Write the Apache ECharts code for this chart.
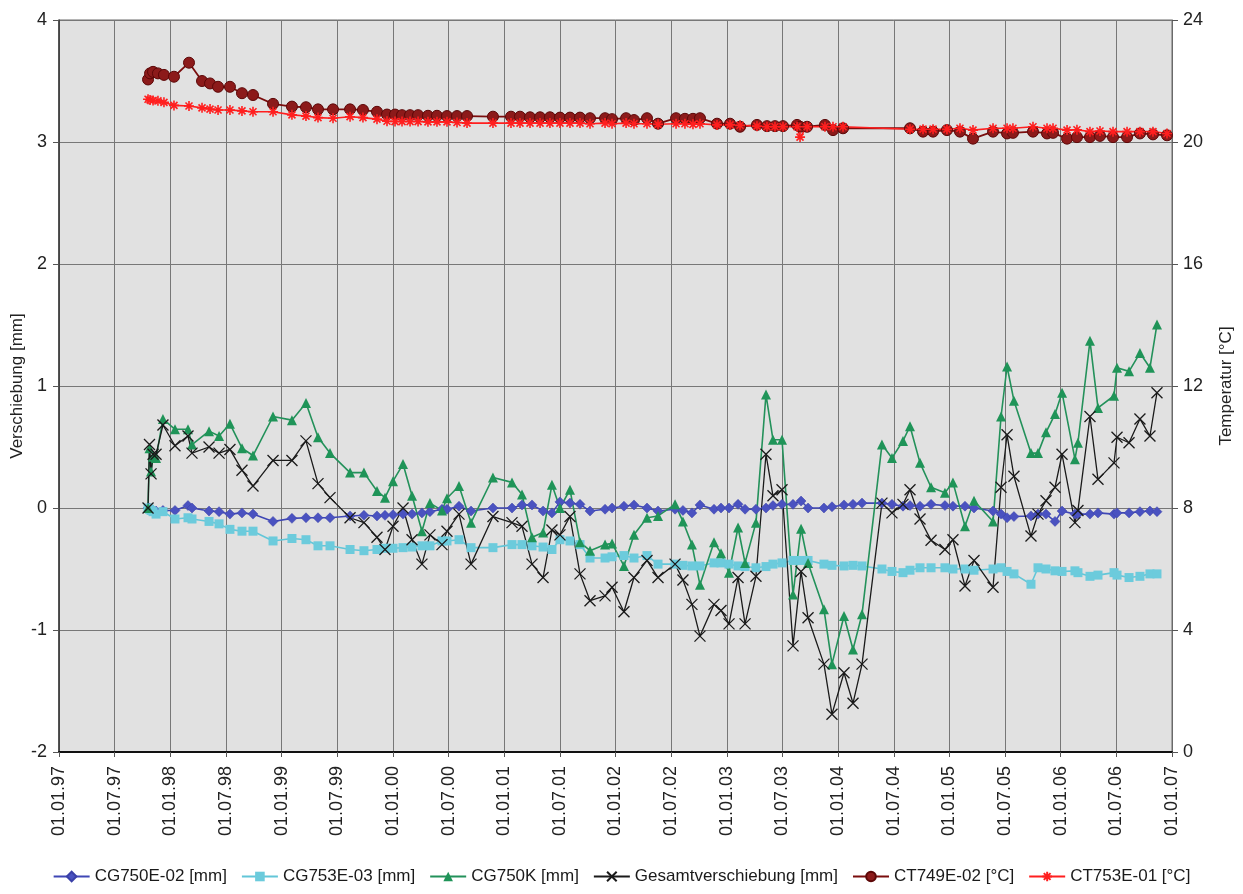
<!DOCTYPE html>
<html>
<head>
<meta charset="utf-8">
<script src="https://cdn.jsdelivr.net/npm/echarts@6/dist/echarts.min.js"></script>
<style>
  html, body { margin: 0; padding: 0; background: #ffffff; }
  #chart { width: 1243px; height: 894px; }
</style>
</head>
<body>
<div id="chart"></div>
<script>
// Measurement dates of the displacement readings (decimal years)
const dispYears = [
  1997.800, 1997.813, 1997.827, 1997.845, 1997.872, 1997.934, 1998.042, 1998.159, 1998.195, 1998.348,
  1998.438, 1998.536, 1998.644, 1998.743, 1998.923, 1999.093, 1999.219, 1999.327, 1999.435, 1999.615,
  1999.740, 1999.857, 1999.929, 2000.001, 2000.091, 2000.172, 2000.261, 2000.333, 2000.441, 2000.486,
  2000.594, 2000.702, 2000.899, 2001.070, 2001.160, 2001.250, 2001.349, 2001.429, 2001.501, 2001.591,
  2001.681, 2001.771, 2001.906, 2001.969, 2002.076, 2002.166, 2002.283, 2002.382, 2002.535, 2002.606,
  2002.687, 2002.759, 2002.885, 2002.948, 2003.020, 2003.101, 2003.164, 2003.262, 2003.352, 2003.415,
  2003.496, 2003.595, 2003.667, 2003.730, 2003.873, 2003.945, 2004.053, 2004.134, 2004.215, 2004.394,
  2004.484, 2004.583, 2004.646, 2004.736, 2004.835, 2004.960, 2005.032, 2005.140, 2005.221, 2005.392,
  2005.464, 2005.518, 2005.580, 2005.733, 2005.796, 2005.868, 2005.949, 2006.012, 2006.128, 2006.155,
  2006.263, 2006.335, 2006.479, 2006.506, 2006.614, 2006.712, 2006.802, 2006.865
];

// CG750E-02 [mm]
const cg750e02 = [
  0.00, 0.00, -0.01, -0.02, -0.025, -0.02, -0.02, 0.02, 0.00, -0.025,
  -0.03, -0.05, -0.04, -0.05, -0.11, -0.085, -0.08, -0.08, -0.08, -0.065,
  -0.06, -0.065, -0.06, -0.055, -0.05, -0.05, -0.04, -0.03, -0.01, -0.01,
  0.015, -0.025, 0.00, 0.00, 0.025, 0.025, -0.025, -0.04, 0.05, 0.04,
  0.03, -0.025, -0.01, 0.00, 0.015, 0.025, 0.00, -0.025, -0.01, -0.02,
  -0.04, 0.025, -0.01, 0.00, 0.00, 0.03, -0.01, -0.01, 0.00, 0.02,
  0.03, 0.03, 0.057, 0.00, 0.00, 0.01, 0.025, 0.03, 0.04, 0.04,
  0.03, 0.015, 0.02, 0.015, 0.03, 0.02, 0.015, 0.015, 0.00, -0.025,
  -0.05, -0.08, -0.07, -0.065, -0.05, -0.05, -0.11, -0.025, -0.05, -0.05,
  -0.05, -0.04, -0.05, -0.04, -0.04, -0.03, -0.025, -0.03
];

// CG753E-03 [mm]
const cg753e03 = [
  0.00, -0.01, -0.02, -0.03, -0.05, -0.03, -0.09, -0.08, -0.09, -0.11,
  -0.13, -0.175, -0.19, -0.19, -0.27, -0.25, -0.26, -0.31, -0.31, -0.34,
  -0.35, -0.34, -0.33, -0.33, -0.325, -0.32, -0.31, -0.31, -0.27, -0.27,
  -0.26, -0.325, -0.325, -0.30, -0.30, -0.31, -0.32, -0.34, -0.26, -0.27,
  -0.30, -0.41, -0.41, -0.40, -0.39, -0.41, -0.39, -0.46, -0.46, -0.47,
  -0.475, -0.475, -0.45, -0.45, -0.46, -0.475, -0.48, -0.49, -0.48, -0.46,
  -0.45, -0.43, -0.43, -0.43, -0.46, -0.47, -0.475, -0.47, -0.475, -0.50,
  -0.52, -0.53, -0.51, -0.49, -0.49, -0.49, -0.50, -0.50, -0.51, -0.50,
  -0.49, -0.52, -0.54, -0.625, -0.49, -0.50, -0.515, -0.52, -0.515, -0.53,
  -0.56, -0.55, -0.53, -0.55, -0.57, -0.56, -0.54, -0.54
];

// CG750K [mm]
const cg750k = [
  0.00, 0.49, 0.30, 0.42, 0.41, 0.73, 0.645, 0.645, 0.52, 0.63,
  0.59, 0.69, 0.49, 0.43, 0.75, 0.72, 0.86, 0.58, 0.45, 0.29,
  0.29, 0.14, 0.085, 0.22, 0.36, 0.10, -0.19, 0.04, -0.02, 0.08,
  0.18, -0.12, 0.25, 0.21, 0.11, -0.24, -0.20, 0.19, 0.00, 0.15,
  -0.28, -0.35, -0.30, -0.29, -0.475, -0.22, -0.08, -0.065, 0.03, -0.11,
  -0.30, -0.63, -0.28, -0.37, -0.53, -0.16, -0.45, -0.12, 0.93, 0.56,
  0.56, -0.71, -0.17, -0.45, -0.83, -1.28, -0.885, -1.16, -0.87, 0.52,
  0.41, 0.55, 0.67, 0.37, 0.17, 0.125, 0.21, -0.15, 0.06, -0.11,
  0.75, 1.16, 0.88, 0.45, 0.45, 0.62, 0.77, 0.945, 0.40, 0.535,
  1.37, 0.82, 0.92, 1.15, 1.12, 1.27, 1.15, 1.505
];

// Gesamtverschiebung [mm]
const gesamt = [
  0.00, 0.52, 0.28, 0.44, 0.44, 0.68, 0.51, 0.59, 0.45, 0.50,
  0.45, 0.48, 0.31, 0.18, 0.39, 0.39, 0.55, 0.20, 0.085, -0.08,
  -0.12, -0.24, -0.34, -0.15, 0.00, -0.26, -0.46, -0.22, -0.30, -0.19,
  -0.05, -0.46, -0.07, -0.12, -0.15, -0.46, -0.57, -0.18, -0.22, -0.07,
  -0.54, -0.76, -0.72, -0.65, -0.85, -0.57, -0.43, -0.57, -0.46, -0.59,
  -0.79, -1.05, -0.79, -0.84, -0.95, -0.57, -0.95, -0.56, 0.44, 0.10,
  0.15, -1.13, -0.52, -0.90, -1.28, -1.69, -1.35, -1.60, -1.28, 0.04,
  -0.04, 0.03, 0.15, -0.09, -0.265, -0.34, -0.26, -0.64, -0.43, -0.65,
  0.17, 0.60, 0.26, -0.23, -0.05, 0.06, 0.17, 0.44, -0.12, -0.02,
  0.75, 0.235, 0.37, 0.58, 0.535, 0.73, 0.59, 0.945
];

// Measurement dates of the temperature readings (decimal years)
const tempYears = [
  1997.800, 1997.818, 1997.845, 1997.889, 1997.943, 1998.033, 1998.168, 1998.285, 1998.357, 1998.429,
  1998.536, 1998.644, 1998.743, 1998.923, 1999.093, 1999.219, 1999.327, 1999.462, 1999.615, 1999.731,
  1999.857, 1999.947, 2000.019, 2000.082, 2000.154, 2000.226, 2000.315, 2000.396, 2000.486, 2000.576,
  2000.666, 2000.899, 2001.061, 2001.142, 2001.232, 2001.322, 2001.411, 2001.501, 2001.591, 2001.681,
  2001.771, 2001.906, 2001.969, 2002.095, 2002.166, 2002.283, 2002.382, 2002.544, 2002.624, 2002.696,
  2002.759, 2002.912, 2003.029, 2003.119, 2003.271, 2003.361, 2003.433, 2003.505, 2003.631, 2003.658,
  2003.721, 2003.882, 2003.954, 2004.044, 2004.646, 2004.763, 2004.853, 2004.978, 2005.095, 2005.212,
  2005.392, 2005.518, 2005.571, 2005.751, 2005.877, 2005.931, 2006.057, 2006.146, 2006.263, 2006.353,
  2006.470, 2006.596, 2006.712, 2006.829, 2006.955
];

// CT749E-02 [°C]
const ct749e02 = [
  22.05, 22.25, 22.30, 22.25, 22.20, 22.14, 22.60, 22.00, 21.92, 21.81,
  21.81, 21.60, 21.54, 21.25, 21.16, 21.14, 21.07, 21.07, 21.07, 21.05,
  20.99, 20.90, 20.90, 20.88, 20.88, 20.88, 20.86, 20.86, 20.85, 20.85,
  20.85, 20.83, 20.83, 20.83, 20.81, 20.81, 20.81, 20.80, 20.80, 20.80,
  20.78, 20.78, 20.75, 20.78, 20.72, 20.78, 20.60, 20.78, 20.76, 20.76,
  20.78, 20.60, 20.60, 20.50, 20.56, 20.52, 20.52, 20.52, 20.56, 20.50,
  20.50, 20.56, 20.39, 20.45, 20.45, 20.34, 20.34, 20.39, 20.34, 20.11,
  20.34, 20.28, 20.30, 20.34, 20.28, 20.30, 20.11, 20.16, 20.16, 20.20,
  20.16, 20.16, 20.28, 20.25, 20.22
];

// CT753E-01 [°C]
const ct753e01 = [
  21.40, 21.38, 21.36, 21.35, 21.30, 21.20, 21.18, 21.12, 21.08, 21.05,
  21.05, 21.02, 20.99, 20.99, 20.89, 20.85, 20.80, 20.78, 20.83, 20.80,
  20.75, 20.68, 20.67, 20.67, 20.67, 20.67, 20.66, 20.66, 20.66, 20.64,
  20.62, 20.62, 20.62, 20.62, 20.62, 20.62, 20.62, 20.62, 20.62, 20.62,
  20.60, 20.62, 20.60, 20.62, 20.60, 20.60, 20.58, 20.60, 20.60, 20.58,
  20.60, 20.56, 20.56, 20.55, 20.52, 20.50, 20.50, 20.50, 20.50, 20.16,
  20.50, 20.50, 20.50, 20.50, 20.42, 20.42, 20.42, 20.42, 20.45, 20.39,
  20.45, 20.45, 20.45, 20.50, 20.45, 20.45, 20.39, 20.40, 20.34, 20.36,
  20.34, 20.34, 20.34, 20.34, 20.28
];

// Half-year tick labels along the time axis
const xTickLabels = [
  '01.01.97', '01.07.97', '01.01.98', '01.07.98', '01.01.99', '01.07.99', '01.01.00',
  '01.07.00', '01.01.01', '01.07.01', '01.01.02', '01.07.02', '01.01.03', '01.07.03',
  '01.01.04', '01.07.04', '01.01.05', '01.07.05', '01.01.06', '01.07.06', '01.01.07'
];

const seriesNames = [
  'CG750E-02 [mm]', 'CG753E-03 [mm]', 'CG750K [mm]', 'Gesamtverschiebung [mm]',
  'CT749E-02 [°C]', 'CT753E-01 [°C]'
];

const pair = (xs, ys) => xs.map((x, i) => [x, ys[i]]);

const FONT = '"Liberation Sans", Arial, Helvetica, sans-serif';
const crossPath = 'path://M0,0 L10,10 M10,0 L0,10';
const starPath = 'path://M5,0 L5,10 M0,5 L10,5 M1.5,1.5 L8.5,8.5 M8.5,1.5 L1.5,8.5';

const chart = echarts.init(document.getElementById('chart'), null, { renderer: 'canvas' });

chart.setOption({
  backgroundColor: '#ffffff',
  animation: false,
  textStyle: { fontFamily: FONT },
  grid: {
    left: 59, right: 71, top: 20, bottom: 142,
    outerBoundsMode: 'none', containLabel: false,
    show: true, backgroundColor: '#e1e1e1', borderColor: '#6a6a6a', borderWidth: 1
  },
  legend: {
    bottom: 4, left: 'center',
    itemWidth: 36, itemHeight: 12, itemGap: 14,
    textStyle: { fontFamily: FONT, fontSize: 17, color: '#1a1a1a' },
    data: seriesNames
  },
  xAxis: {
    type: 'value', min: 1997, max: 2007, interval: 0.5,
    axisLine: { show: true, onZero: false, lineStyle: { color: '#111', width: 2 } },
    axisTick: { show: true, length: 5, lineStyle: { color: '#555' } },
    axisLabel: {
      rotate: 90, margin: 14, fontSize: 18, color: '#222', fontFamily: FONT,
      formatter: v => xTickLabels[Math.round((v - 1997) * 2)] || ''
    },
    splitLine: { show: true, lineStyle: { color: '#777', width: 1 } }
  },
  yAxis: [
    {
      type: 'value', min: -2, max: 4, interval: 1, position: 'left',
      name: 'Verschiebung [mm]', nameLocation: 'middle', nameGap: 33, nameRotate: 90,
      nameMoveOverlap: false,
      nameTextStyle: { fontSize: 17, color: '#222', fontFamily: FONT },
      axisLine: { show: true, onZero: false, lineStyle: { color: '#333', width: 1.5 } },
      axisTick: { show: true, length: 6, lineStyle: { color: '#555' } },
      axisLabel: { fontSize: 18, color: '#222', margin: 12, fontFamily: FONT },
      splitLine: { show: true, lineStyle: { color: '#777', width: 1 } }
    },
    {
      type: 'value', min: 0, max: 24, interval: 4, position: 'right',
      name: 'Temperatur [°C]', nameLocation: 'middle', nameGap: 46, nameRotate: 90,
      nameTextStyle: { fontSize: 17, color: '#222', fontFamily: FONT },
      axisLine: { show: true, onZero: false, lineStyle: { color: '#6a6a6a', width: 1 } },
      axisTick: { show: true, length: 6, lineStyle: { color: '#555' } },
      axisLabel: { fontSize: 18, color: '#222', margin: 11, fontFamily: FONT },
      splitLine: { show: false }
    }
  ],
  series: [
    {
      name: seriesNames[0], type: 'line', yAxisIndex: 0,
      data: pair(dispYears, cg750e02),
      symbol: 'diamond', symbolSize: 10,
      lineStyle: { color: '#3f47b5', width: 1.6 },
      itemStyle: { color: '#4a52c0', borderColor: '#3a40a8', borderWidth: 0.5 }
    },
    {
      name: seriesNames[1], type: 'line', yAxisIndex: 0,
      data: pair(dispYears, cg753e03),
      symbol: 'rect', symbolSize: 9,
      lineStyle: { color: '#62c6d8', width: 1.6 },
      itemStyle: { color: '#6ccbdc' }
    },
    {
      name: seriesNames[2], type: 'line', yAxisIndex: 0,
      data: pair(dispYears, cg750k),
      symbol: 'triangle', symbolSize: 10,
      lineStyle: { color: '#23915a', width: 1.6 },
      itemStyle: { color: '#1f9458' }
    },
    {
      name: seriesNames[3], type: 'line', yAxisIndex: 0,
      data: pair(dispYears, gesamt),
      symbol: crossPath, symbolSize: 11,
      lineStyle: { color: '#1a1a1a', width: 1.3 },
      itemStyle: { color: '#1a1a1a', borderColor: '#1a1a1a', borderWidth: 1.3 }
    },
    {
      name: seriesNames[4], type: 'line', yAxisIndex: 1,
      data: pair(tempYears, ct749e02),
      symbol: 'circle', symbolSize: 11,
      lineStyle: { color: '#7a0d0d', width: 1.8 },
      itemStyle: { color: '#8c1a1a', borderColor: '#5c0707', borderWidth: 1 }
    },
    {
      name: seriesNames[5], type: 'line', yAxisIndex: 1,
      data: pair(tempYears, ct753e01),
      symbol: starPath, symbolSize: 10,
      lineStyle: { color: '#ff1f1f', width: 1.6 },
      itemStyle: { color: '#ff1f1f', borderColor: '#ff1f1f', borderWidth: 1.6 }
    }
  ]
});
</script>
</body>
</html>
